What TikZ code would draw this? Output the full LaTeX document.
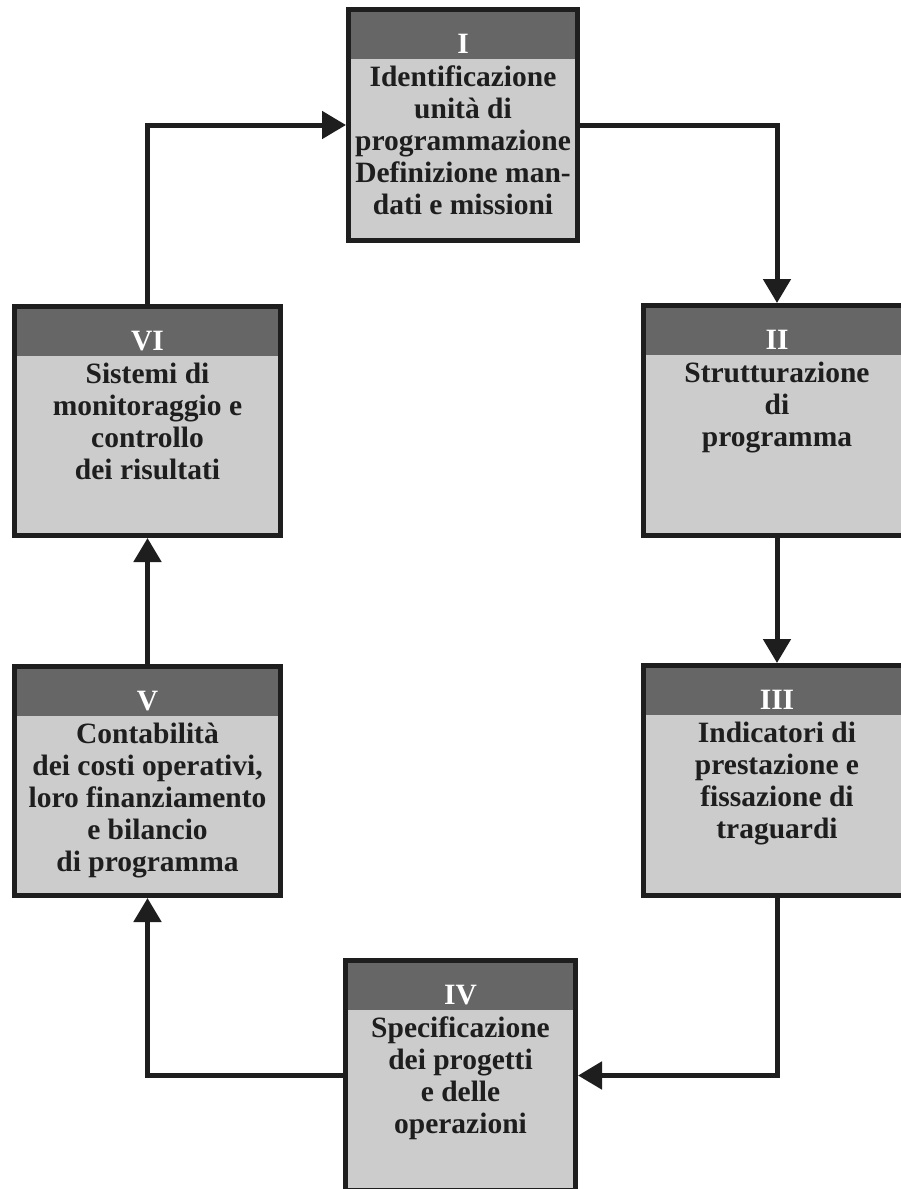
\documentclass[tikz,border=0pt]{standalone}
\usepackage{fontspec}
\setmainfont{Liberation Serif}
\usetikzlibrary{arrows.meta,calc}
\definecolor{hdr}{HTML}{666666}
\definecolor{bodyc}{HTML}{CCCCCC}
\definecolor{ink}{HTML}{1E1E1E}
\begin{document}
\begin{tikzpicture}[x=1pt,y=-1pt,
  stage/.style={draw=ink,line width=5pt,fill=bodyc,inner sep=0pt,
    path picture={\fill[hdr] (path picture bounding box.north west) rectangle ([yshift=-49.5pt]path picture bounding box.north east);}},
  num/.style={anchor=base,text=white,font=\fontsize{29.5}{32}\selectfont\bfseries,inner sep=0pt},
  txt/.style={anchor=north,align=center,text=ink,font=\fontsize{29.5}{32}\selectfont\bfseries,inner sep=0pt},
  arr/.style={draw=ink,line width=5pt,-{Triangle[length=24pt,width=27pt]}}]
\useasboundingbox (0,0) rectangle (901,1189);
\clip (0,0) rectangle (901,1189);
\fill[white] (0,0) rectangle (901,1189);

\node[stage,minimum width=229pt,minimum height=231pt] (b1) at (463,125) {};
\node[stage,minimum width=267pt,minimum height=230pt] (b2) at (777,420.5) {};
\node[stage,minimum width=267pt,minimum height=230pt] (b3) at (777,780.5) {};
\node[stage,minimum width=230pt,minimum height=230pt] (b4) at (460.5,1075.5) {};
\node[stage,minimum width=266pt,minimum height=229pt] (b5) at (147.5,781) {};
\node[stage,minimum width=266pt,minimum height=229pt] (b6) at (147.5,421) {};

\node[num] (n1) at ([yshift=-46pt]b1.north) {I};
\node[num] (n2) at ([yshift=-46pt]b2.north) {II};
\node[num] (n3) at ([yshift=-46pt]b3.north) {III};
\node[num] (n4) at ([yshift=-46pt]b4.north) {IV};
\node[num] (n5) at ([yshift=-46pt]b5.north) {V};
\node[num] (n6) at ([yshift=-46pt]b6.north) {VI};

\node[txt] (t1) at ([yshift=-55pt]b1.north) {\rule{0pt}{24pt}Identificazione\\unità di\\programmazione\\Definizione man-\\dati e missioni};
\node[txt] (t2) at ([yshift=-55pt]b2.north) {\rule{0pt}{24pt}Strutturazione\\di\\programma};
\node[txt] (t3) at ([yshift=-55pt]b3.north) {\rule{0pt}{24pt}Indicatori di\\prestazione e\\fissazione di\\traguardi};
\node[txt] (t4) at ([yshift=-55pt]b4.north) {\rule{0pt}{24pt}Specificazione\\dei progetti\\e delle\\operazioni};
\node[txt] (t5) at ([yshift=-55pt]b5.north) {\rule{0pt}{24pt}Contabilità\\dei costi operativi,\\loro finanziamento\\e bilancio\\di programma};
\node[txt] (t6) at ([yshift=-55pt]b6.north) {\rule{0pt}{24pt}Sistemi di\\monitoraggio e\\controllo\\dei risultati};

\draw[arr] (b6.north) |- (b1.west);
\draw[arr] (b1.east) -| (b2.north);
\draw[arr] (b2.south) -- (b3.north);
\draw[arr] (b3.south) |- (b4.east);
\draw[arr] (b4.west) -| (b5.south);
\draw[arr] (b5.north) -- (b6.south);
\end{tikzpicture}
\end{document}
